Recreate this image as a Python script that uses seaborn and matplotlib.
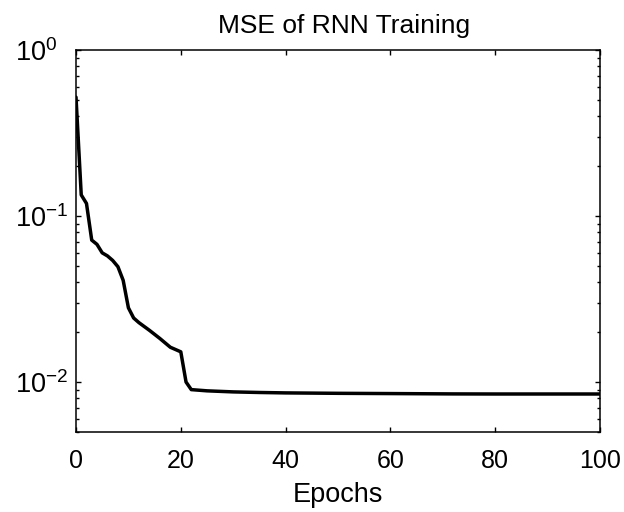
import numpy as np
import pandas as pd
import matplotlib
matplotlib.use("Agg")
import matplotlib.pyplot as plt
import seaborn as sns
from matplotlib.ticker import LogLocator, FixedLocator, NullFormatter

epochs = [0, 1, 2, 3, 4, 5, 6, 7, 8, 9, 10, 11, 12, 14, 16, 18, 20, 21, 22,
          25, 30, 35, 40, 50, 60, 72, 80, 90, 100]
mse = [0.52, 0.134, 0.119, 0.0716, 0.0675, 0.060, 0.0575, 0.054, 0.0495,
       0.041, 0.028, 0.0243, 0.0228, 0.0205, 0.0183, 0.0162, 0.0152, 0.0100,
       0.0090, 0.00885, 0.00872, 0.00865, 0.0086, 0.00855, 0.00852, 0.00848,
       0.00847, 0.00847, 0.00847]
x_ticks = [0, 20, 40, 60, 80, 100]
title_text = "MSE of RNN Training"
x_label = "Epochs"

sns.set_style("ticks")
plt.rcParams["font.family"] = ["Liberation Sans", "DejaVu Sans"]
plt.rcParams["mathtext.fontset"] = "custom"
plt.rcParams["mathtext.rm"] = "Liberation Sans"
plt.rcParams["mathtext.it"] = "Liberation Sans"
plt.rcParams["mathtext.bf"] = "Liberation Sans"
plt.rcParams["text.color"] = "black"
plt.rcParams["axes.labelcolor"] = "black"
plt.rcParams["xtick.color"] = "black"
plt.rcParams["ytick.color"] = "black"

fig = plt.figure(figsize=(6.24, 5.12), dpi=100)
ax = fig.add_axes([76 / 624, 1 - 432 / 512, 524 / 624, 382 / 512])

df = pd.DataFrame({"Epochs": epochs, "MSE": mse})
sns.lineplot(data=df, x="Epochs", y="MSE", ax=ax, color="black",
             linewidth=2.5, estimator=None, sort=False)

ax.set_yscale("log")
ax.set_xlim(0, 100)
ax.set_ylim(0.005, 1)
ax.xaxis.set_major_locator(FixedLocator(x_ticks))
ax.yaxis.set_major_locator(LogLocator(base=10, numticks=10))
ax.yaxis.set_minor_locator(LogLocator(base=10, subs=np.arange(2, 10), numticks=20))
ax.yaxis.set_minor_formatter(NullFormatter())

for s in ax.spines.values():
    s.set_visible(True)
    s.set_linewidth(1.1)
    s.set_color("black")

ax.tick_params(which="both", direction="in", top=True, right=True,
               colors="black", width=1.0)
ax.tick_params(which="major", length=3.8)
ax.tick_params(which="minor", length=2.3)
ax.tick_params(axis="x", which="major", labelsize=18, pad=12)
ax.tick_params(axis="y", which="major", labelsize=19.5, pad=44)
for lab in ax.get_yticklabels():
    lab.set_horizontalalignment("left")

ax.set_xlabel(x_label, fontsize=19.5, labelpad=7, color="black")
ax.set_ylabel("")
ax.set_title(title_text, fontsize=19, x=0.512, pad=12.5, color="black")

fig.savefig("out.png", dpi=100)
